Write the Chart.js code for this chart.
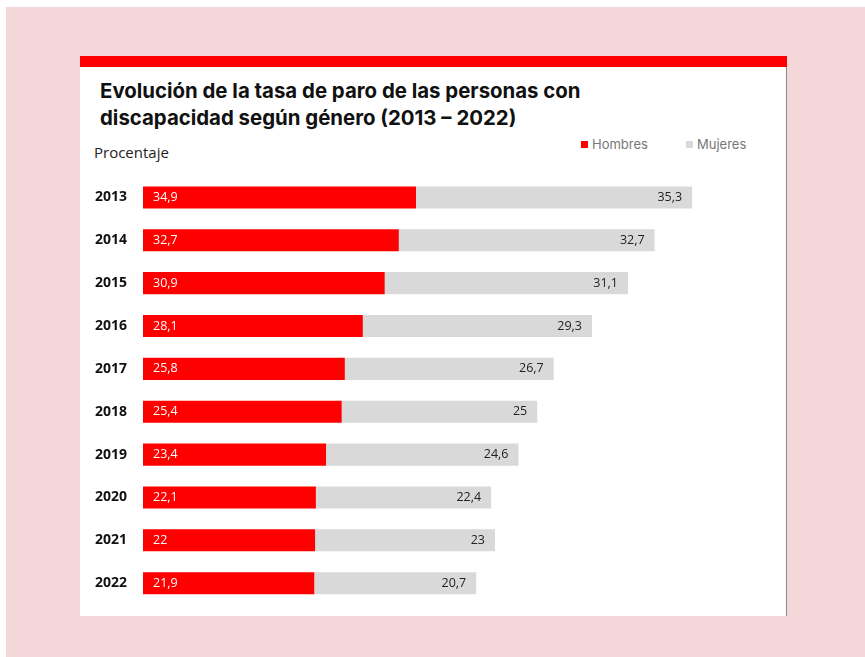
<!DOCTYPE html>
<html>
<head>
<meta charset="utf-8">
<script src="https://cdn.jsdelivr.net/npm/chart.js@4"></script>
<style>
  html, body { margin: 0; padding: 0; background: #fff; }
  .page { position: absolute; left: 6px; top: 7px; width: 859px; height: 650px; background: #f4d7d8; }
  .card { position: absolute; left: 80px; top: 56px; width: 706px; height: 560px; background: #fff; border-right: 1px solid #8a8a8a; }
  .topbar { position: absolute; left: 0; top: 0; width: 707px; height: 11px; background: #ff0000; }
  .title { position: absolute; left: 20px; top: 21px; font: bold 20.4px "Inter", "Noto Sans", sans-serif; line-height: 27px; color: #111; }
  .subtitle { position: absolute; left: 14px; top: 86px; font: 15px "Open Sans", "Noto Sans", sans-serif; color: #222; }
  .legend { position: absolute; top: 80px; font: 13px "Inter", "Noto Sans", sans-serif; color: #777; }
  .legend span { display: inline-block; width: 7px; height: 7px; margin-right: 4px; vertical-align: 1px; }
  canvas { position: absolute; left: 0; top: 0; }
</style>
</head>
<body>
<div class="page"></div>
<div class="card">
  <div class="topbar"></div>
  <div class="title">Evolución de la tasa de paro de las personas con<br>discapacidad según género (2013 – 2022)</div>
  <div class="subtitle">Procentaje</div>
  <div class="legend" style="left:501px"><span style="background:#ff0000"></span>Hombres</div>
  <div class="legend" style="left:606px"><span style="background:#d9d9d9"></span>Mujeres</div>
  <canvas id="chart" width="706" height="565"></canvas>
</div>
<script>
const years = ['2013', '2014', '2015', '2016', '2017', '2018', '2019', '2020', '2021', '2022'];
const hombres = [34.9, 32.7, 30.9, 28.1, 25.8, 25.4, 23.4, 22.1, 22, 21.9];
const mujeres = [35.3, 32.7, 31.1, 29.3, 26.7, 25, 24.6, 22.4, 23, 20.7];

const fmt = v => String(v).replace('.', ',');

const barLabels = {
  id: 'barLabels',
  afterDatasetsDraw(chart) {
    const ctx = chart.ctx;
    ctx.save();
    ctx.font = '12.5px "Open Sans", "Noto Sans", sans-serif';
    ctx.textBaseline = 'middle';
    chart.getDatasetMeta(0).data.forEach((bar, i) => {
      ctx.fillStyle = '#ffffff';
      ctx.textAlign = 'left';
      ctx.fillText(fmt(hombres[i]), bar.base + 10, bar.y);
    });
    chart.getDatasetMeta(1).data.forEach((bar, i) => {
      ctx.fillStyle = '#222222';
      ctx.textAlign = 'right';
      ctx.fillText(fmt(mujeres[i]), bar.x - 10, bar.y);
    });
    ctx.restore();
  }
};

new Chart(document.getElementById('chart'), {
  type: 'bar',
  data: {
    labels: years,
    datasets: [
      {
        label: 'Hombres',
        data: hombres,
        backgroundColor: '#ff0000',
        categoryPercentage: 0.515,
        barPercentage: 1,
      },
      {
        label: 'Mujeres',
        data: mujeres,
        backgroundColor: '#d9d9d9',
        categoryPercentage: 0.515,
        barPercentage: 1,
      },
    ],
  },
  options: {
    indexAxis: 'y',
    responsive: false,
    animation: false,
    layout: { padding: { top: 120, bottom: 1, left: 0, right: 0 } },
    plugins: {
      legend: { display: false },
      tooltip: { enabled: false },
    },
    scales: {
      x: {
        stacked: true,
        display: false,
        min: 0,
        max: 82.2,
      },
      y: {
        stacked: true,
        grid: { display: false },
        border: { display: false },
        afterFit: axis => { axis.width = 63; },
        ticks: {
          padding: 8,
          color: '#111',
          font: { family: '"Open Sans", "Noto Sans", sans-serif', size: 14, weight: 'bold' },
        },
      },
    },
  },
  plugins: [barLabels],
});
</script>
</body>
</html>
